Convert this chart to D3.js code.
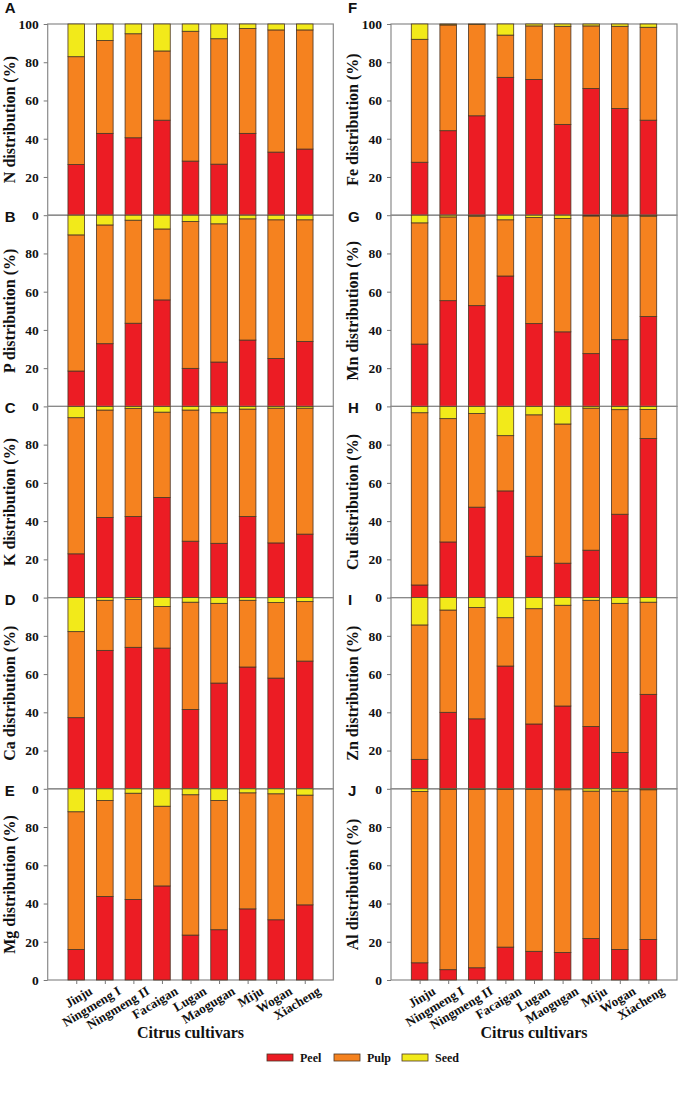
<!DOCTYPE html>
<html>
<head>
<meta charset="utf-8">
<script src="https://cdn.jsdelivr.net/npm/d3@7"></script>
<style>
  body { margin: 0; background: #fff; }
  text { font-family: "Liberation Serif", "Times New Roman", serif; font-weight: bold; fill: #111; }
  .letter { font-family: "Liberation Sans", Arial, sans-serif; font-size: 15px; }
</style>
</head>
<body>
<svg></svg>
<script>
var width = 679,
    height = 1100;

var cultivars = ["Jinju", "Ningmeng I", "Ningmeng II", "Facaigan", "Lugan", "Maogugan", "Miju", "Wogan", "Xiacheng"];
var parts = ["Peel", "Pulp", "Seed"];
var colors = ["#ec1c24", "#f5821f", "#f2ea1a"];
var yTicks = [0, 20, 40, 60, 80, 100];

// values in %
var nPeel = [26.5, 42.8, 40.5, 49.7, 28.3, 26.7, 42.8, 33.0, 34.6],
    nPulp = [56.4, 48.6, 54.4, 36.2, 67.9, 65.6, 54.8, 63.9, 62.3],
    nSeed = [17.1, 8.6, 5.1, 14.1, 3.8, 7.7, 2.4, 3.1, 3.1];
var pPeel = [18.5, 32.8, 43.5, 55.7, 19.9, 23.2, 34.7, 25.0, 34.0],
    pPulp = [71.2, 62.1, 53.9, 37.1, 76.8, 72.3, 63.4, 72.6, 63.6],
    pSeed = [10.3, 5.1, 2.6, 7.2, 3.3, 4.5, 1.9, 2.4, 2.4];
var kPeel = [22.9, 41.9, 42.4, 52.4, 29.5, 28.4, 42.4, 28.6, 33.2],
    kPulp = [71.2, 56.2, 56.6, 44.6, 68.6, 68.3, 56.2, 70.5, 65.9],
    kSeed = [5.9, 1.9, 1.0, 3.0, 1.9, 3.3, 1.4, 0.9, 0.9];
var caPeel = [37.2, 72.4, 74.0, 73.6, 41.5, 55.3, 63.7, 57.9, 66.8],
    caPulp = [45.0, 26.2, 25.1, 21.7, 56.1, 41.7, 34.9, 39.5, 31.1],
    caSeed = [17.8, 1.4, 0.9, 4.7, 2.4, 3.0, 1.4, 2.6, 2.1];
var mgPeel = [16.0, 43.7, 42.1, 49.2, 23.5, 26.3, 37.2, 31.5, 39.3],
    mgPulp = [72.0, 50.2, 55.6, 41.7, 73.4, 67.6, 60.7, 65.9, 57.4],
    mgSeed = [12.0, 6.1, 2.3, 9.1, 3.1, 6.1, 2.1, 2.6, 3.3];
var fePeel = [27.7, 44.2, 52.0, 72.1, 71.0, 47.5, 66.3, 55.8, 49.7],
    fePulp = [64.3, 55.3, 47.8, 22.1, 28.0, 51.3, 32.7, 43.0, 48.6],
    feSeed = [8.0, 0.5, 0.2, 5.8, 1.0, 1.2, 1.0, 1.2, 1.7];
var mnPeel = [32.6, 55.3, 52.7, 68.2, 43.3, 39.0, 27.6, 34.9, 47.0],
    mnPulp = [63.4, 43.8, 46.8, 29.4, 55.5, 59.3, 72.0, 64.6, 52.5],
    mnSeed = [4.0, 0.9, 0.5, 2.4, 1.2, 1.7, 0.4, 0.5, 0.5];
var cuPeel = [6.6, 29.1, 47.3, 55.8, 21.6, 18.0, 24.8, 43.6, 83.2],
    cuPulp = [90.1, 64.5, 49.0, 28.9, 74.0, 72.8, 74.3, 54.7, 15.2],
    cuSeed = [3.3, 6.4, 3.7, 15.3, 4.4, 9.2, 0.9, 1.7, 1.6];
var znPeel = [15.4, 40.0, 36.6, 64.2, 33.9, 43.3, 32.6, 19.0, 49.4],
    znPulp = [70.3, 53.5, 58.2, 25.3, 60.3, 52.7, 66.0, 78.0, 48.2],
    znSeed = [14.3, 6.5, 5.2, 10.5, 5.8, 4.0, 1.4, 3.0, 2.4];
var alPeel = [9.0, 5.4, 6.4, 17.2, 15.0, 14.4, 21.7, 16.0, 21.2],
    alPulp = [89.6, 94.3, 93.3, 82.5, 84.7, 85.1, 77.1, 82.8, 78.3],
    alSeed = [1.4, 0.3, 0.3, 0.3, 0.3, 0.5, 1.2, 1.2, 0.5];

var panels = [
  { letter: "A", el: "N", col: 0, row: 0, peel: nPeel, pulp: nPulp, seed: nSeed },
  { letter: "B", el: "P", col: 0, row: 1, peel: pPeel, pulp: pPulp, seed: pSeed },
  { letter: "C", el: "K", col: 0, row: 2, peel: kPeel, pulp: kPulp, seed: kSeed },
  { letter: "D", el: "Ca", col: 0, row: 3, peel: caPeel, pulp: caPulp, seed: caSeed },
  { letter: "E", el: "Mg", col: 0, row: 4, peel: mgPeel, pulp: mgPulp, seed: mgSeed },
  { letter: "F", el: "Fe", col: 1, row: 0, peel: fePeel, pulp: fePulp, seed: feSeed },
  { letter: "G", el: "Mn", col: 1, row: 1, peel: mnPeel, pulp: mnPulp, seed: mnSeed },
  { letter: "H", el: "Cu", col: 1, row: 2, peel: cuPeel, pulp: cuPulp, seed: cuSeed },
  { letter: "I", el: "Zn", col: 1, row: 3, peel: znPeel, pulp: znPulp, seed: znSeed },
  { letter: "J", el: "Al", col: 1, row: 4, peel: alPeel, pulp: alPulp, seed: alSeed }
];

var colX = [[47.7, 333.3], [391, 677]],
    top0 = 24,
    panelH = 191.2,
    barW = 16.6;

var svg = d3.select("svg")
    .attr("width", width)
    .attr("height", height);

var stack = d3.stack().keys(parts);

panels.forEach(p => {
    var x0 = colX[p.col][0], x1 = colX[p.col][1];
    var yTop = top0 + p.row * panelH;

    var x = d3.scalePoint()
        .domain(cultivars)
        .range([x0, x1])
        .padding(1);
    var y = d3.scaleLinear()
        .domain([0, 100])
        .range([yTop + panelH, yTop]);

    var table = cultivars.map((c, i) => ({ name: c, Peel: p.peel[i], Pulp: p.pulp[i], Seed: p.seed[i] }));
    var series = stack(table);

    var g = svg.append("g");

    // frame
    g.append("rect")
        .attr("x", x0).attr("y", yTop)
        .attr("width", x1 - x0).attr("height", panelH)
        .attr("fill", "none")
        .attr("stroke", "#8a8a8a")
        .attr("stroke-width", 1.2);

    g.selectAll("g.layer")
        .data(series)
        .enter().append("g")
        .attr("class", "layer")
        .attr("fill", (d, i) => colors[i])
        .selectAll("rect")
        .data(d => d)
        .enter().append("rect")
        .attr("x", d => x(d.data.name) - barW / 2)
        .attr("y", d => y(d[1]))
        .attr("width", barW)
        .attr("height", d => y(d[0]) - y(d[1]))
        .attr("stroke", "#4a3524")
        .attr("stroke-width", 0.8);

    // y axis (no domain line, frame does it)
    var shown = p.row === 0 ? yTicks : yTicks.slice(0, 5);
    var yAxis = g.append("g")
        .attr("transform", "translate(" + x0 + ",0)")
        .call(d3.axisLeft(y).tickValues(shown).tickSize(4).tickPadding(5).tickFormat(d3.format("d")));
    yAxis.attr("font-family", null);
    yAxis.select(".domain").remove();
    yAxis.selectAll("line").attr("stroke", "#777");
    yAxis.selectAll("text")
        .attr("font-size", 13.5);

    g.append("text")
        .attr("transform", "translate(" + (x0 - 33) + "," + (yTop + panelH / 2) + ") rotate(-90)")
        .attr("text-anchor", "middle")
        .attr("font-size", 16)
        .text(p.el + " distribution (%)");

    g.append("text")
        .attr("class", "letter")
        .attr("x", x0 - 43)
        .attr("y", p.row === 0 ? 13 : yTop + 7)
        .text(p.letter);

    if (p.row === 4) {
        var xAxis = g.append("g")
            .attr("transform", "translate(0," + (yTop + panelH) + ")")
            .call(d3.axisBottom(x).tickSize(4).tickPadding(3));
        xAxis.attr("font-family", null);
        xAxis.select(".domain").remove();
        xAxis.selectAll("line").attr("stroke", "#777");
        xAxis.selectAll("text")
            .attr("font-size", 13)
            .attr("text-anchor", "end")
            .attr("dx", "0.55em")
            .attr("dy", "1em")
            .attr("transform", "rotate(-31)");

        g.append("text")
            .attr("x", (x0 + x1) / 2)
            .attr("y", 1038)
            .attr("text-anchor", "middle")
            .attr("font-size", 16)
            .text("Citrus cultivars");
    }
});

// legend
var legendX = [267, 334, 402];
var legend = svg.append("g")
    .selectAll("g")
    .data(parts)
    .enter().append("g")
    .attr("transform", (d, i) => "translate(" + legendX[i] + ",1054)");
legend.append("rect")
    .attr("width", 26).attr("height", 7)
    .attr("fill", (d, i) => colors[i])
    .attr("stroke", "#4a3524")
    .attr("stroke-width", 0.8);
legend.append("text")
    .attr("x", 33).attr("y", 7.5)
    .attr("font-size", 12)
    .text(d => d);
</script>
</body>
</html>
